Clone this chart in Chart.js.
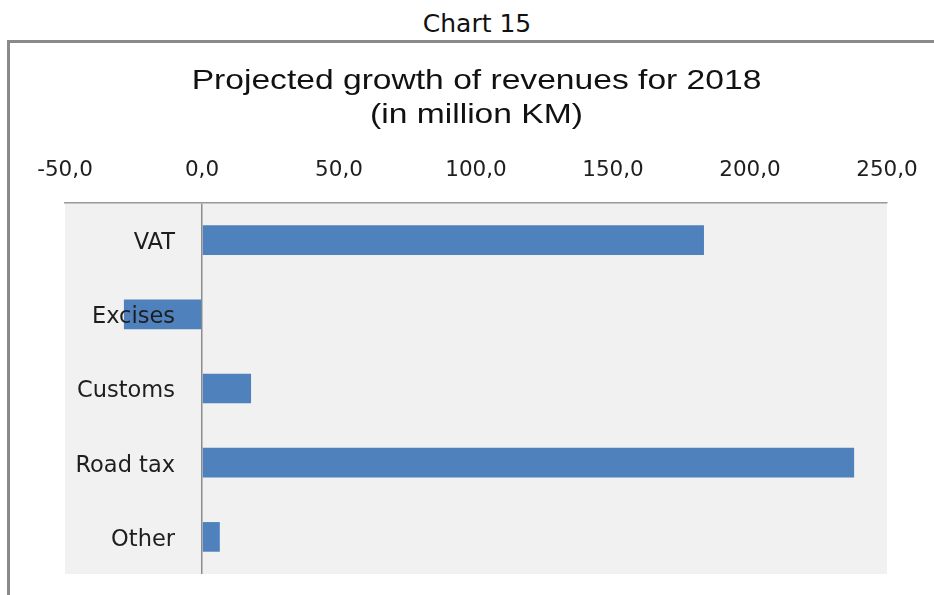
<!DOCTYPE html>
<html>
<head>
<meta charset="utf-8">
<script src="https://cdn.jsdelivr.net/npm/chart.js@4/dist/chart.umd.min.js"></script>
<style>
  html, body { margin: 0; padding: 0; background: #ffffff; overflow: hidden; }
  #page { position: relative; width: 934px; height: 595px; overflow: hidden; }
  #caption {
    position: absolute; left: 0; top: 9px; width: 954px; text-align: center;
    font-family: "DejaVu Sans", Verdana, sans-serif; font-size: 25px; line-height: 30px; color: #111;
  }
  #frame {
    position: absolute; left: 7px; top: 40px; width: 960px; height: 600px;
    border-left: 3px solid #8a8a8a; border-top: 3px solid #8a8a8a; box-sizing: border-box;
  }
  #chart { position: absolute; left: 0; top: 0; }
</style>
</head>
<body>
<div id="page">
  <div id="caption">Chart 15</div>
  <div id="frame"></div>
  <canvas id="chart" width="934" height="595"></canvas>
</div>
<script>
// Revenue categories and projected growth for 2018 (million KM)
const categories = ["VAT", "Excises", "Customs", "Road tax", "Other"];
const growth = [183.2, -28.5, 17.9, 238.0, 6.5];
const titleLines = ["Projected growth of revenues for 2018", "(in million KM)"];
const axisMin = -50;
const axisMax = 250;
const axisStep = 50;

const fmt = v => v.toFixed(1).replace('.', ',');

// Grey plot background
const plotBackground = {
  id: 'plotBackground',
  beforeDraw(chart) {
    const { ctx, chartArea: a } = chart;
    ctx.save();
    ctx.fillStyle = '#f1f1f1';
    ctx.fillRect(a.left, a.top, a.right - a.left, a.bottom - a.top);
    ctx.restore();
  }
};

// Two-line heading, slightly widened
const heading = {
  id: 'heading',
  afterDraw(chart) {
    const ctx = chart.ctx;
    ctx.save();
    ctx.fillStyle = '#111111';
    ctx.font = '28px "Liberation Sans", Arial, sans-serif';
    ctx.textAlign = 'center';
    ctx.textBaseline = 'alphabetic';
    const cx = 476.5;
    const baselines = [89, 123];
    titleLines.forEach((t, i) => {
      ctx.save();
      ctx.translate(cx, baselines[i]);
      ctx.scale(1.2, 1);
      ctx.fillText(t, 0, 0);
      ctx.restore();
    });
    ctx.restore();
  }
};

// Category names drawn inside the plot, over the bars
const categoryLabels = {
  id: 'categoryLabels',
  afterDatasetsDraw(chart) {
    const { ctx, scales } = chart;
    const y = scales.y;
    ctx.save();
    ctx.fillStyle = '#1e1e1e';
    ctx.font = '22.5px "DejaVu Sans", Verdana, sans-serif';
    ctx.textAlign = 'right';
    ctx.textBaseline = 'middle';
    categories.forEach((c, i) => {
      ctx.fillText(c, 175, y.getPixelForValue(i) + 3);
    });
    ctx.restore();
  }
};

new Chart(document.getElementById('chart'), {
  type: 'bar',
  data: {
    labels: categories,
    datasets: [{
      data: growth,
      backgroundColor: '#4f81bd',
      borderWidth: 0,
      barPercentage: 0.4,
      categoryPercentage: 1.0
    }]
  },
  options: {
    indexAxis: 'y',
    responsive: false,
    animation: false,
    devicePixelRatio: 1,
    layout: { padding: { top: 0, left: 65, right: 47, bottom: 21 } },
    plugins: {
      legend: { display: false },
      title: { display: false },
      tooltip: { enabled: false }
    },
    scales: {
      x: {
        position: 'top',
        min: axisMin,
        max: axisMax,
        afterFit(scale) {
          scale.height = 203;
          scale.paddingLeft = 0;
          scale.paddingRight = 0;
        },
        ticks: {
          stepSize: axisStep,
          padding: 20,
          color: '#1e1e1e',
          font: { family: '"DejaVu Sans", Verdana, sans-serif', size: 21.5 },
          callback: v => fmt(v)
        },
        grid: {
          drawTicks: false,
          lineWidth: 1.5,
          color: c => (c.tick && c.tick.value === 0) ? '#8c8c8c' : 'rgba(0,0,0,0)'
        },
        border: { display: true, color: '#999999', width: 1.5 }
      },
      y: {
        display: false
      }
    }
  },
  plugins: [plotBackground, heading, categoryLabels]
});
</script>
</body>
</html>
